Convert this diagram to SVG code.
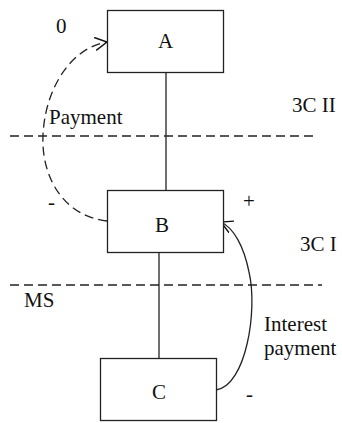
<svg xmlns="http://www.w3.org/2000/svg" width="342" height="423" viewBox="0 0 342 423">
<style>
.box{fill:#fff;stroke:#222;stroke-width:1.3}
.t{font-family:"Liberation Serif","Times New Roman",Times,serif;font-size:21px;fill:#111}
.ln{fill:none;stroke:#222;stroke-width:1.3}
.dl{fill:none;stroke:#222;stroke-width:1.3;stroke-dasharray:9,5}
</style>
<defs>
<marker id="open" viewBox="0 0 14 14" refX="12" refY="7" markerWidth="14" markerHeight="14" markerUnits="userSpaceOnUse" orient="auto">
<path d="M0,0.5 L12,7 L0,13.5" fill="none" stroke="#111" stroke-width="1.4"/>
</marker>
</defs>
<g id="levels">
<line class="dl" x1="10" y1="136" x2="318" y2="136"/>
<line class="dl" x1="10" y1="285" x2="322" y2="285"/>
<text class="t" x="292" y="112">3C II</text>
<text class="t" x="300" y="251">3C I</text>
<text class="t" x="24" y="307">MS</text>
</g>
<g id="connectors">
<line class="ln" x1="166" y1="73" x2="166" y2="190"/>
<line class="ln" x1="159" y1="252" x2="159" y2="358"/>
<path class="dl" d="M107,221 C62,216 41,175 43,135 C45,90 70,48 107,42" marker-end="url(#open)"/>
<path class="ln" d="M216,390 C246,386 258,310 249,272 C244,247 234,228 221,222" marker-end="url(#open)"/>
<text class="t" x="49" y="124">Payment</text>
<text class="t" x="56" y="33">0</text>
<text class="t" x="48" y="209">-</text>
<text class="t" x="243" y="208">+</text>
<text class="t" x="264" y="331">Interest</text>
<text class="t" x="264" y="355">payment</text>
<text class="t" x="246" y="401">-</text>
</g>
<g id="A">
<rect class="box" x="107.5" y="10.5" width="116" height="62"/>
<text class="t" x="165.5" y="48" text-anchor="middle">A</text>
</g>
<g id="B">
<rect class="box" x="107.5" y="190.5" width="116" height="62"/>
<text class="t" x="162" y="232" text-anchor="middle">B</text>
</g>
<g id="C">
<rect class="box" x="100.5" y="358.5" width="116" height="62"/>
<text class="t" x="159" y="399" text-anchor="middle">C</text>
</g>
</svg>
